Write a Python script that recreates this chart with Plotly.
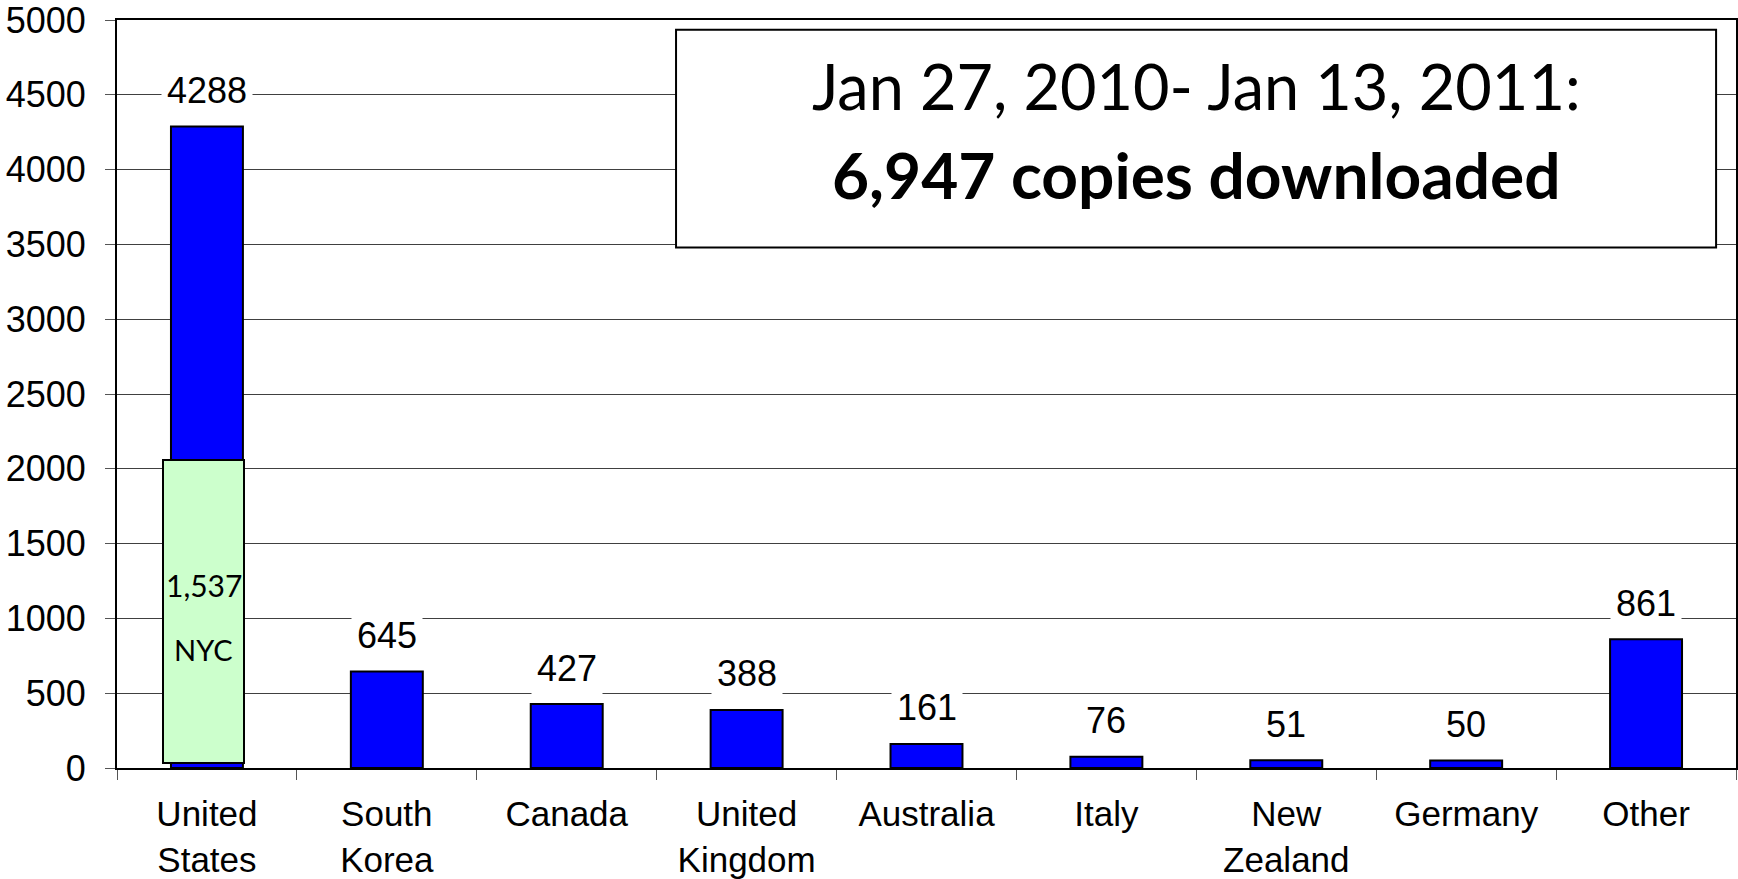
import plotly.graph_objects as go

categories = ["United<br>States", "South<br>Korea", "Canada", "United<br>Kingdom",
              "Australia", "Italy", "New<br>Zealand", "Germany", "Other"]
downloads = [4288, 645, 427, 388, 161, 76, 51, 50, 861]
value_labels = ["4288", "645", "427", "388", "161", "76", "51", "50", "861"]
nyc_label = "1,537"
nyc_name = "NYC"
title_line1 = "Jan 27, 2010- Jan 13, 2011:"
title_line2 = "6,947 copies downloaded"
y_ticks = [0, 500, 1000, 1500, 2000, 2500, 3000, 3500, 4000, 4500, 5000]

ARIAL = "Liberation Sans, Arial, sans-serif"
CALIBRI = "Lato, Carlito, Calibri, sans-serif"

fig = go.Figure(go.Bar(
    x=categories, y=downloads, width=0.4,
    marker=dict(color="#0000FF", line=dict(color="black", width=2)),
    hoverinfo="skip",
))

# value labels with white background above each bar
for c, v, t in zip(categories, downloads, value_labels):
    fig.add_annotation(x=c, y=v, text=t, showarrow=False, yshift=36,
                       yanchor="middle", bgcolor="white", borderpad=5,
                       font=dict(family=ARIAL, size=36, color="black"))

# NYC callout box over the US bar
fig.add_annotation(x=categories[0], y=0, yref="y", text=" ", showarrow=False,
                   xanchor="center", yanchor="bottom", xshift=-3, yshift=4,
                   width=79, height=301, borderpad=0,
                   bgcolor="#CCFFCC", bordercolor="black", borderwidth=2)
fig.add_annotation(x=categories[0], y=0, text=nyc_label, showarrow=False,
                   xshift=-3, yshift=183, yanchor="middle",
                   font=dict(family=CALIBRI, size=30, color="black"))
fig.add_annotation(x=categories[0], y=0, text=nyc_name, showarrow=False,
                   xshift=-3, yshift=119, yanchor="middle",
                   font=dict(family=CALIBRI, size=29, color="black"))

# title box
fig.add_shape(type="rect", xref="paper", yref="paper",
              x0=0.3453, x1=0.9877, y0=0.696, y1=0.987,
              line=dict(color="black", width=2), fillcolor="white", layer="above")
fig.add_annotation(xref="paper", yref="paper", x=0.6665, y=0.912,
                   text=title_line1, showarrow=False, xanchor="center", yanchor="middle",
                   font=dict(family=CALIBRI, size=63, color="black"))
fig.add_annotation(xref="paper", yref="paper", x=0.6665, y=0.793,
                   text="<b>" + title_line2 + "</b>", showarrow=False,
                   xanchor="center", yanchor="middle",
                   font=dict(family=CALIBRI, size=64, color="black"))

fig.update_layout(
    width=1738, height=879,
    margin=dict(l=117, r=2, t=20, b=111, pad=0, autoexpand=False),
    plot_bgcolor="white", paper_bgcolor="white",
    showlegend=False,
    bargap=0.6,
)
fig.update_xaxes(
    showline=True, linecolor="black", linewidth=2, mirror=True,
    ticks="outside", tickson="boundaries", ticklen=10, tickcolor="#555555", tickwidth=1,
    tickfont=dict(family=ARIAL, size=35, color="black"),
    ticklabelstandoff=14, ticklabeloverflow="allow", showgrid=False, automargin=False,
)
fig.update_yaxes(
    range=[0, 5000], tickvals=y_ticks, ticktext=[str(v) for v in y_ticks],
    showline=True, linecolor="black", linewidth=2, mirror=True,
    ticks="outside", ticklen=10, tickcolor="#555555", tickwidth=1,
    tickfont=dict(family=ARIAL, size=36, color="black"),
    ticklabelstandoff=12, ticklabeloverflow="allow", automargin=False,
    showgrid=True, gridcolor="#404040", gridwidth=1, zeroline=False,
)

fig.write_html("out.html")
